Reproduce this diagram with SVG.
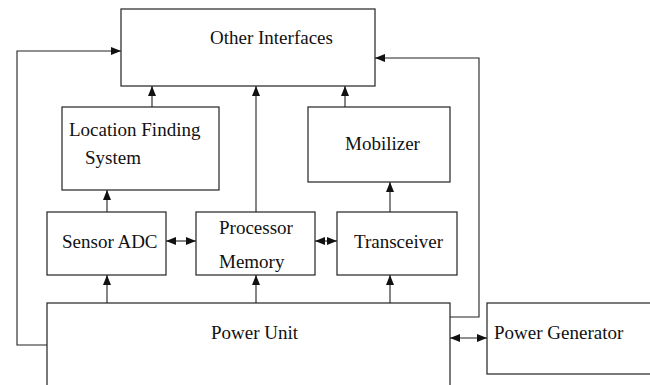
<svg xmlns="http://www.w3.org/2000/svg" width="650" height="385" viewBox="0 0 650 385">
<defs>
<style>
.box{fill:#fff;stroke:#222;stroke-width:1.2}
.ln{fill:none;stroke:#222;stroke-width:1.1}
text{font-family:"Liberation Serif","Times New Roman",serif;font-size:19px;fill:#111}
</style>
<marker id="ah" viewBox="0 0 10 8" refX="10" refY="4" markerWidth="10" markerHeight="8" markerUnits="userSpaceOnUse" orient="auto-start-reverse">
<path d="M0,0 L10,4 L0,8 z" fill="#111"/>
</marker>
</defs>
<rect width="650" height="385" fill="#fff"/>
<g id="connectors">
<path class="ln" d="M47,345 H17 V51 H121" marker-end="url(#ah)"/>
<path class="ln" d="M450,317 H479 V58 H375" marker-end="url(#ah)"/>
<path class="ln" d="M152,107 V86" marker-end="url(#ah)"/>
<path class="ln" d="M256,212 V86" marker-end="url(#ah)"/>
<path class="ln" d="M345,107 V86" marker-end="url(#ah)"/>
<path class="ln" d="M107,212 V190" marker-end="url(#ah)"/>
<path class="ln" d="M390,212 V182" marker-end="url(#ah)"/>
<path class="ln" d="M107,303 V275" marker-end="url(#ah)"/>
<path class="ln" d="M256,303 V275" marker-end="url(#ah)"/>
<path class="ln" d="M390,303 V275" marker-end="url(#ah)"/>
<path class="ln" d="M166,241 H196" marker-start="url(#ah)" marker-end="url(#ah)"/>
<path class="ln" d="M315,241 H337" marker-start="url(#ah)" marker-end="url(#ah)"/>
<path class="ln" d="M450,338 H487" marker-start="url(#ah)" marker-end="url(#ah)"/>
</g>
<g id="other-interfaces">
<rect class="box" x="121" y="9" width="254" height="77"/>
<text x="210" y="44">Other Interfaces</text>
</g>
<g id="location-finding">
<rect class="box" x="62" y="107" width="157" height="83"/>
<text x="69" y="136">Location Finding</text>
<text x="85" y="164">System</text>
</g>
<g id="mobilizer">
<rect class="box" x="308" y="107" width="142" height="75"/>
<text x="345" y="150">Mobilizer</text>
</g>
<g id="sensor-adc">
<rect class="box" x="47" y="212" width="119" height="63"/>
<text x="62" y="248">Sensor ADC</text>
</g>
<g id="processor-memory">
<rect class="box" x="196" y="212" width="119" height="63"/>
<text x="219" y="234">Processor</text>
<text x="219" y="268">Memory</text>
</g>
<g id="transceiver">
<rect class="box" x="337" y="212" width="120" height="63"/>
<text x="354" y="248">Transceiver</text>
</g>
<g id="power-unit">
<rect class="box" x="47" y="303" width="403" height="90"/>
<text x="211" y="339">Power Unit</text>
</g>
<g id="power-generator">
<rect class="box" x="487" y="303" width="170" height="71"/>
<text x="494" y="339">Power Generator</text>
</g>
</svg>
